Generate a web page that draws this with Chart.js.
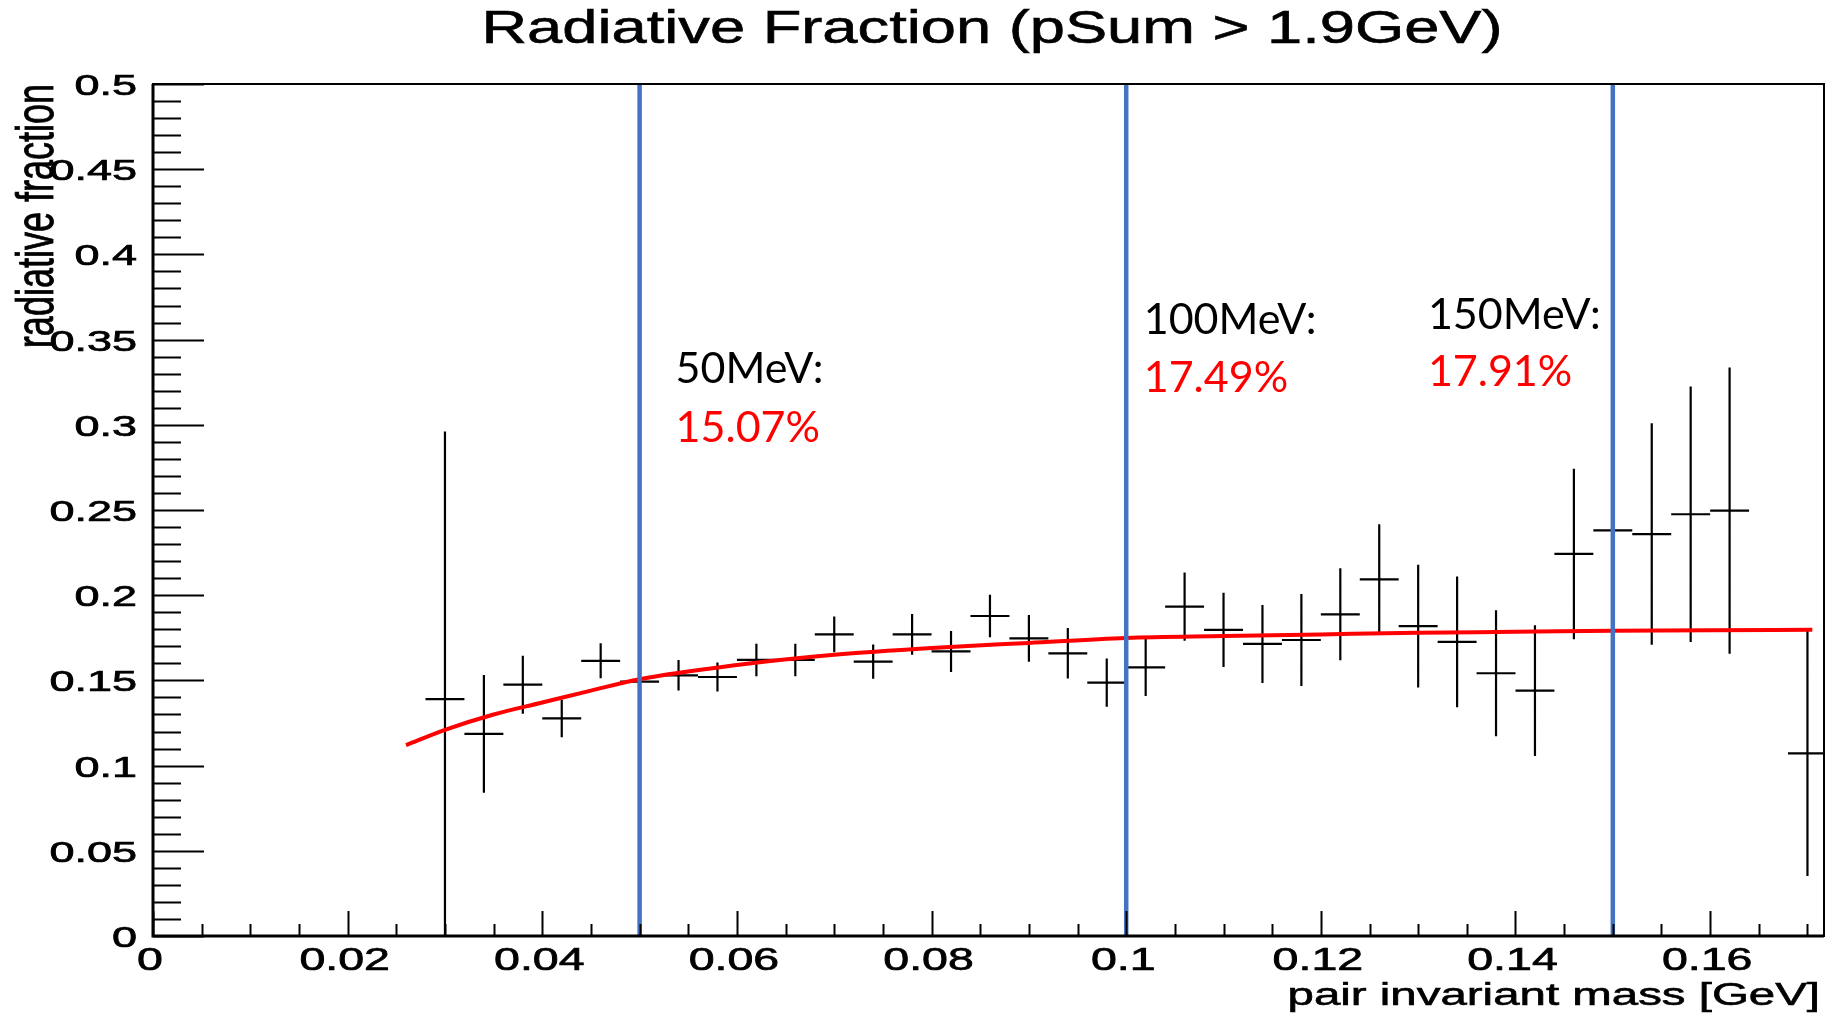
<!DOCTYPE html>
<html>
<head>
<meta charset="utf-8">
<title>Radiative Fraction</title>
<script src="https://cdn.jsdelivr.net/npm/chart.js@4.4.0/dist/chart.umd.min.js"></script>
<style>
  html, body { margin: 0; padding: 0; background: #fff; }
  canvas { display: block; }
</style>
</head>
<body>
<canvas id="radFracChart" width="1830" height="1016"></canvas>
<script>
// measured bins, 4 MeV wide
const binWidth = 0.004;
const binCenters = [0.030, 0.034, 0.038, 0.042, 0.046, 0.050, 0.054, 0.058, 0.062, 0.066,
                    0.070, 0.074, 0.078, 0.082, 0.086, 0.090, 0.094, 0.098, 0.102, 0.106,
                    0.110, 0.114, 0.118, 0.122, 0.126, 0.130, 0.134, 0.138, 0.142, 0.146,
                    0.150, 0.154, 0.158, 0.162, 0.170];
const radFraction = [0.139, 0.1186, 0.1475, 0.1277, 0.1615, 0.1493, 0.153, 0.152, 0.162, 0.162,
                     0.177, 0.161, 0.177, 0.167, 0.1878, 0.1747, 0.1659, 0.1487, 0.1577, 0.1933,
                     0.1796, 0.1714, 0.1737, 0.1888, 0.2093, 0.1819, 0.1726, 0.1542, 0.144, 0.2242,
                     0.2381, 0.2359, 0.2475, 0.2496, 0.1072];
const radFractionErr = [0.157, 0.0345, 0.017, 0.011, 0.0103, 0.006, 0.009, 0.0085, 0.0095, 0.0095,
                        0.0105, 0.010, 0.012, 0.012, 0.0125, 0.0137, 0.0148, 0.0141, 0.0169, 0.020,
                        0.0218, 0.0229, 0.027, 0.027, 0.0323, 0.036, 0.0384, 0.037, 0.0383, 0.050,
                        0.055, 0.065, 0.075, 0.084, 0.072];

// fit curve
const fitMass  = [0.026, 0.030, 0.035, 0.040, 0.045, 0.050, 0.060, 0.070, 0.080, 0.090,
                  0.100, 0.110, 0.120, 0.130, 0.140, 0.150, 0.160, 0.1705];
const fitValue = [0.112, 0.121, 0.130, 0.137, 0.144, 0.1507, 0.159, 0.165, 0.169, 0.172,
                  0.1749, 0.176, 0.177, 0.178, 0.1785, 0.1791, 0.1795, 0.1797];

// mass cuts and the fraction at each cut
const cutMass = [0.05, 0.10, 0.15];
const cutLabels = ['50MeV:', '100MeV:', '150MeV:'];
const cutFractions = ['15.07%', '17.49%', '17.91%'];

// axis labels
const xTicks = [0, 0.02, 0.04, 0.06, 0.08, 0.1, 0.12, 0.14, 0.16];
const xTickLabels = ['0', '0.02', '0.04', '0.06', '0.08', '0.1', '0.12', '0.14', '0.16'];
const yTicks = [0, 0.05, 0.1, 0.15, 0.2, 0.25, 0.3, 0.35, 0.4, 0.45, 0.5];
const yTickLabels = ['0', '0.05', '0.1', '0.15', '0.2', '0.25', '0.3', '0.35', '0.4', '0.45', '0.5'];

const titleText = 'Radiative Fraction (pSum > 1.9GeV)';
const xTitle = 'pair invariant mass [GeV]';
const yTitle = 'radiative fraction';

// crosses: horizontal bin bar + vertical error bar, split by gaps
const crossPoints = [];
binCenters.forEach((m, i) => {
    const v = radFraction[i];
    const e = radFractionErr[i];
    crossPoints.push({ x: m - binWidth / 2, y: v }, { x: m + binWidth / 2, y: v }, { x: m, y: null });
    crossPoints.push({ x: m, y: v - e }, { x: m, y: v + e }, { x: m, y: null });
});

const cutDatasets = cutMass.map(m => ({
    data: [{ x: m, y: 0 }, { x: m, y: 0.5 }],
    borderColor: '#4472C4',
    borderWidth: 4.5,
    pointRadius: 0,
    clip: 0,
    order: 0
}));

const ROOT_FONT = '"Liberation Sans", Arial, sans-serif';
const NOTE_FONT = 'Lato, "Open Sans", sans-serif';

// text in the original is stretched sideways
function drawText(ctx, text, x, y, o) {
    ctx.save();
    ctx.translate(x, y);
    if (o.rotate) ctx.rotate(o.rotate);
    ctx.scale(o.sx || 1, o.sy || 1);
    ctx.font = o.font;
    ctx.fillStyle = o.color || '#000';
    ctx.textAlign = o.align || 'left';
    ctx.textBaseline = 'alphabetic';
    ctx.fillText(text, 0, 0);
    if (o.heavy) {
        ctx.strokeStyle = o.color || '#000';
        ctx.lineWidth = o.heavy;
        ctx.strokeText(text, 0, 0);
    }
    ctx.restore();
}

const rootStyle = {
    id: 'rootStyle',
    beforeDraw(chart) {
        const ctx = chart.ctx;
        ctx.save();
        ctx.fillStyle = '#fff';
        ctx.fillRect(0, 0, chart.width, chart.height);
        ctx.restore();
    },
    afterDatasetsDraw(chart) {
        const ctx = chart.ctx;
        const { left, right, top, bottom } = chart.chartArea;
        const xs = chart.scales.x, ys = chart.scales.y;
        ctx.save();
        ctx.strokeStyle = '#000';
        ctx.lineWidth = 2;
        ctx.strokeRect(left, top, right - left, bottom - top);
        ctx.lineWidth = 3;
        ctx.beginPath();
        ctx.moveTo(left, top); ctx.lineTo(left, bottom); ctx.lineTo(right, bottom);
        ctx.stroke();

        // y ticks: minor every 0.01, major every 0.05
        ctx.lineWidth = 2;
        ctx.beginPath();
        for (let i = 0; i <= 50; i++) {
            const py = Math.round(ys.getPixelForValue(i * 0.01)) + 0.5;
            const len = i % 5 === 0 ? 51 : 28;
            ctx.moveTo(left, py); ctx.lineTo(left + len, py);
        }
        // x ticks: minor every 0.005, major every 0.02
        for (let i = 0; i * 0.005 <= xs.max; i++) {
            const px = Math.round(xs.getPixelForValue(i * 0.005)) + 0.5;
            const len = i % 4 === 0 ? 25 : 12;
            ctx.moveTo(px, bottom); ctx.lineTo(px, bottom - len);
        }
        ctx.stroke();
        ctx.restore();
    },
    afterDraw(chart) {
        const ctx = chart.ctx;
        const { left, right, top, bottom } = chart.chartArea;
        const xs = chart.scales.x, ys = chart.scales.y;

        drawText(ctx, titleText, 992, 43, { font: '46px ' + ROOT_FONT, sx: 1.375, align: 'center', heavy: 0.6 });

        yTicks.forEach((v, i) => {
            drawText(ctx, yTickLabels[i], left - 16, ys.getPixelForValue(v) + 11,
                { font: '30px ' + ROOT_FONT, sx: 1.5, align: 'right', heavy: 0.7 });
        });
        xTicks.forEach((v, i) => {
            drawText(ctx, xTickLabels[i], xs.getPixelForValue(v) - 3, bottom + 34,
                { font: '31px ' + ROOT_FONT, sx: 1.5, align: 'center', heavy: 0.7 });
        });

        drawText(ctx, xTitle, right - 4, bottom + 69, { font: '31px ' + ROOT_FONT, sx: 1.53, align: 'right', heavy: 0.6 });
        drawText(ctx, yTitle, 53, top, { font: '36px ' + ROOT_FONT, sy: 1.44, rotate: -Math.PI / 2, align: 'right', heavy: 0.6 });

        // cut annotations
        const noteX = [0.0537, 0.1018, 0.131];
        const labelY = [0.3246, 0.3533, 0.3563];
        const fracY = [0.290, 0.3193, 0.3228];
        cutLabels.forEach((txt, i) => {
            const px = xs.getPixelForValue(noteX[i]);
            drawText(ctx, txt, px, ys.getPixelForValue(labelY[i]), { font: '43px ' + NOTE_FONT });
            drawText(ctx, cutFractions[i], px, ys.getPixelForValue(fracY[i]),
                { font: '43px ' + NOTE_FONT, color: '#FF0000' });
        });
    }
};

const ctx = document.getElementById('radFracChart').getContext('2d');

const radFracChart = new Chart(ctx, {
    type: 'line',
    data: {
        datasets: [
            ...cutDatasets,
            {
                data: fitMass.map((m, i) => ({ x: m, y: fitValue[i] })),
                borderColor: '#FF0000',
                borderWidth: 4,
                pointRadius: 0,
                cubicInterpolationMode: 'monotone',
                clip: 0,
                order: 1
            },
            {
                data: crossPoints,
                borderColor: '#000',
                borderWidth: 2.2,
                pointRadius: 0,
                spanGaps: false,
                clip: 0,
                order: 2
            }
        ]
    },
    options: {
        responsive: false,
        devicePixelRatio: 1,
        animation: false,
        layout: { padding: { left: 153, top: 84, right: 6, bottom: 80 } },
        scales: {
            x: { type: 'linear', min: 0, max: 0.1717, display: false },
            y: { type: 'linear', min: 0, max: 0.5, display: false }
        },
        plugins: {
            legend: { display: false },
            tooltip: { enabled: false }
        }
    },
    plugins: [rootStyle]
});
</script>
</body>
</html>
